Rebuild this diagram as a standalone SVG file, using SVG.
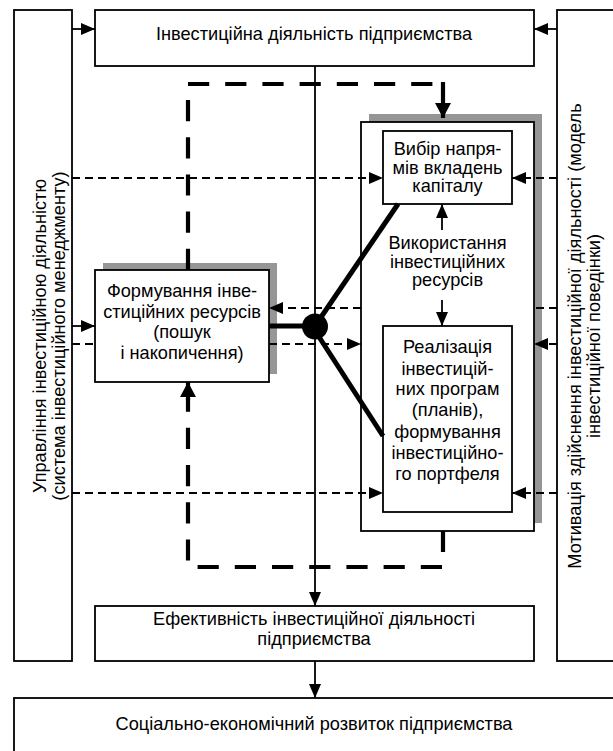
<svg xmlns="http://www.w3.org/2000/svg" width="613" height="751" viewBox="0 0 613 751">
  <defs>
    <style>
      .box{fill:#fff;stroke:#000;stroke-width:1.8}
      .shadow{fill:#969696;stroke:none}
      .t{font-family:"Liberation Sans",Arial,sans-serif;font-size:18.2px;text-anchor:middle;fill:#000}
      .thin{fill:none;stroke:#000;stroke-width:1.8;stroke-dasharray:8 5}
      .solid{fill:none;stroke:#000;stroke-width:1.8}
      .heavy{fill:none;stroke:#000;stroke-width:5}
      .thick{fill:none;stroke:#000;stroke-width:4.2}
      .thickdash{fill:none;stroke:#000;stroke-width:4.2;stroke-dasharray:21.2 16}
    </style>
    <marker id="arr" viewBox="0 0 14 12" refX="14" refY="6" markerWidth="14" markerHeight="12" markerUnits="userSpaceOnUse" orient="auto">
      <path d="M0,0 L14,6 L0,12 Z" fill="#000"/>
    </marker>
    <marker id="arrBig" viewBox="0 0 15 16" refX="15" refY="8" markerWidth="15" markerHeight="16" markerUnits="userSpaceOnUse" orient="auto">
      <path d="M0,0 L15,8 L0,16 Z" fill="#000"/>
    </marker>
  </defs>
  <rect width="613" height="751" fill="#fff"/>

  <!-- management system (left column) -->
  <g id="management">
    <rect class="box" x="14" y="10" width="58" height="651"/>
    <text class="t" transform="translate(46,336) rotate(-90)">Управління інвестиційною діяльністю</text>
    <text class="t" transform="translate(65,336) rotate(-90)">(система інвестиційного менеджменту)</text>
  </g>

  <!-- motivation (right column) -->
  <g id="motivation">
    <rect class="box" x="557" y="10" width="70" height="651"/>
    <text class="t" transform="translate(581,336) rotate(-90)">Мотивація здійснення інвестиційної діяльності (модель</text>
    <text class="t" transform="translate(600,336) rotate(-90)">інвестиційної поведінки)</text>
  </g>

  <g id="activity">
    <rect class="box" x="95" y="10" width="439" height="56"/>
    <text class="t" x="314" y="40">Інвестиційна діяльність підприємства</text>
  </g>

  <g id="forming">
    <rect class="shadow" x="103" y="263" width="174" height="111"/>
    <rect class="box" x="95" y="270" width="174" height="112"/>
    <text class="t" x="182" y="297">Формування інве-</text>
    <text class="t" x="182" y="317.5">стиційних ресурсів</text>
    <text class="t" x="182" y="338">(пошук</text>
    <text class="t" x="182" y="358.5">і накопичення)</text>
  </g>

  <g id="usage">
    <rect class="shadow" x="369" y="114" width="173" height="409"/>
    <rect class="box" x="361" y="122" width="173" height="409"/>
    <text class="t" x="447.5" y="249">Використання</text>
    <text class="t" x="447.5" y="267.5">інвестиційних</text>
    <text class="t" x="447.5" y="286">ресурсів</text>
  </g>

  <g id="directions">
    <rect class="box" x="383" y="131" width="129" height="73"/>
    <text class="t" x="447.5" y="155">Вибір напря-</text>
    <text class="t" x="447.5" y="173.5">мів вкладень</text>
    <text class="t" x="447.5" y="192">капіталу</text>
  </g>

  <g id="implementation">
    <rect class="box" x="383" y="326" width="129" height="186"/>
    <text class="t" x="447.5" y="353">Реалізація</text>
    <text class="t" x="447.5" y="374.5">інвестицій-</text>
    <text class="t" x="447.5" y="395">них програм</text>
    <text class="t" x="447.5" y="416">(планів),</text>
    <text class="t" x="447.5" y="438">формування</text>
    <text class="t" x="447.5" y="459">інвестиційно-</text>
    <text class="t" x="447.5" y="480">го портфеля</text>
  </g>

  <g id="efficiency">
    <rect class="box" x="95" y="606" width="439" height="55"/>
    <text class="t" x="314" y="624.5">Ефективність інвестиційної діяльності</text>
    <text class="t" x="314" y="645">підприємства</text>
  </g>

  <g id="development">
    <rect class="box" x="14" y="698" width="610" height="70"/>
    <text class="t" x="314" y="730">Соціально-економічний розвиток підприємства</text>
  </g>

  <g id="connectors">
    <!-- control and motivation inputs to the activity -->
    <path class="solid" d="M72,29 H95" marker-end="url(#arr)"/>
    <path class="solid" d="M557,29 H534" marker-end="url(#arr)"/>
    <path class="solid" d="M72,326 H95" marker-end="url(#arr)"/>

    <!-- main flow -->
    <path class="solid" d="M315,66 V606" marker-end="url(#arr)"/>
    <path class="solid" d="M315,661 V698" marker-end="url(#arr)"/>

    <!-- inside the usage block -->
    <path class="solid" d="M442,230 V204" marker-end="url(#arr)"/>
    <path class="solid" d="M442,300 V326" marker-end="url(#arr)"/>

    <!-- thin dashed feedback lines -->
    <path class="thin" d="M72,178 H383" marker-end="url(#arr)"/>
    <path class="thin" d="M557,178 H512" marker-end="url(#arr)"/>
    <path class="thin" d="M557,308 H534"/>
    <path class="thin" d="M361,308 H269" marker-end="url(#arr)"/>
    <path class="thin" d="M72,344 H95"/>
    <path class="thin" d="M269,344 H361" marker-end="url(#arr)"/>
    <path class="thin" d="M557,344 H534" marker-end="url(#arr)"/>
    <path class="thin" d="M72,493 H383" marker-end="url(#arr)"/>
    <path class="thin" d="M557,493 H512" marker-end="url(#arr)"/>

    <!-- resource loop -->
    <path class="thickdash" d="M188,270 V84 H437"/>
    <path class="thick" d="M443,82 V118" marker-end="url(#arrBig)"/>
    <path class="thick" d="M443,531 V552"/>
    <path class="thickdash" d="M442,567 H188 V398"/>
    <path class="thick" d="M188,400 V382" marker-end="url(#arrBig)"/>

    <!-- junction of resource flows -->
    <path class="heavy" d="M269,326 H315"/>
    <path class="heavy" d="M315,326 L398,204"/>
    <path class="heavy" d="M312,326 L383,436"/>
    <circle cx="315" cy="326.5" r="13" fill="#000"/>
  </g>
</svg>
